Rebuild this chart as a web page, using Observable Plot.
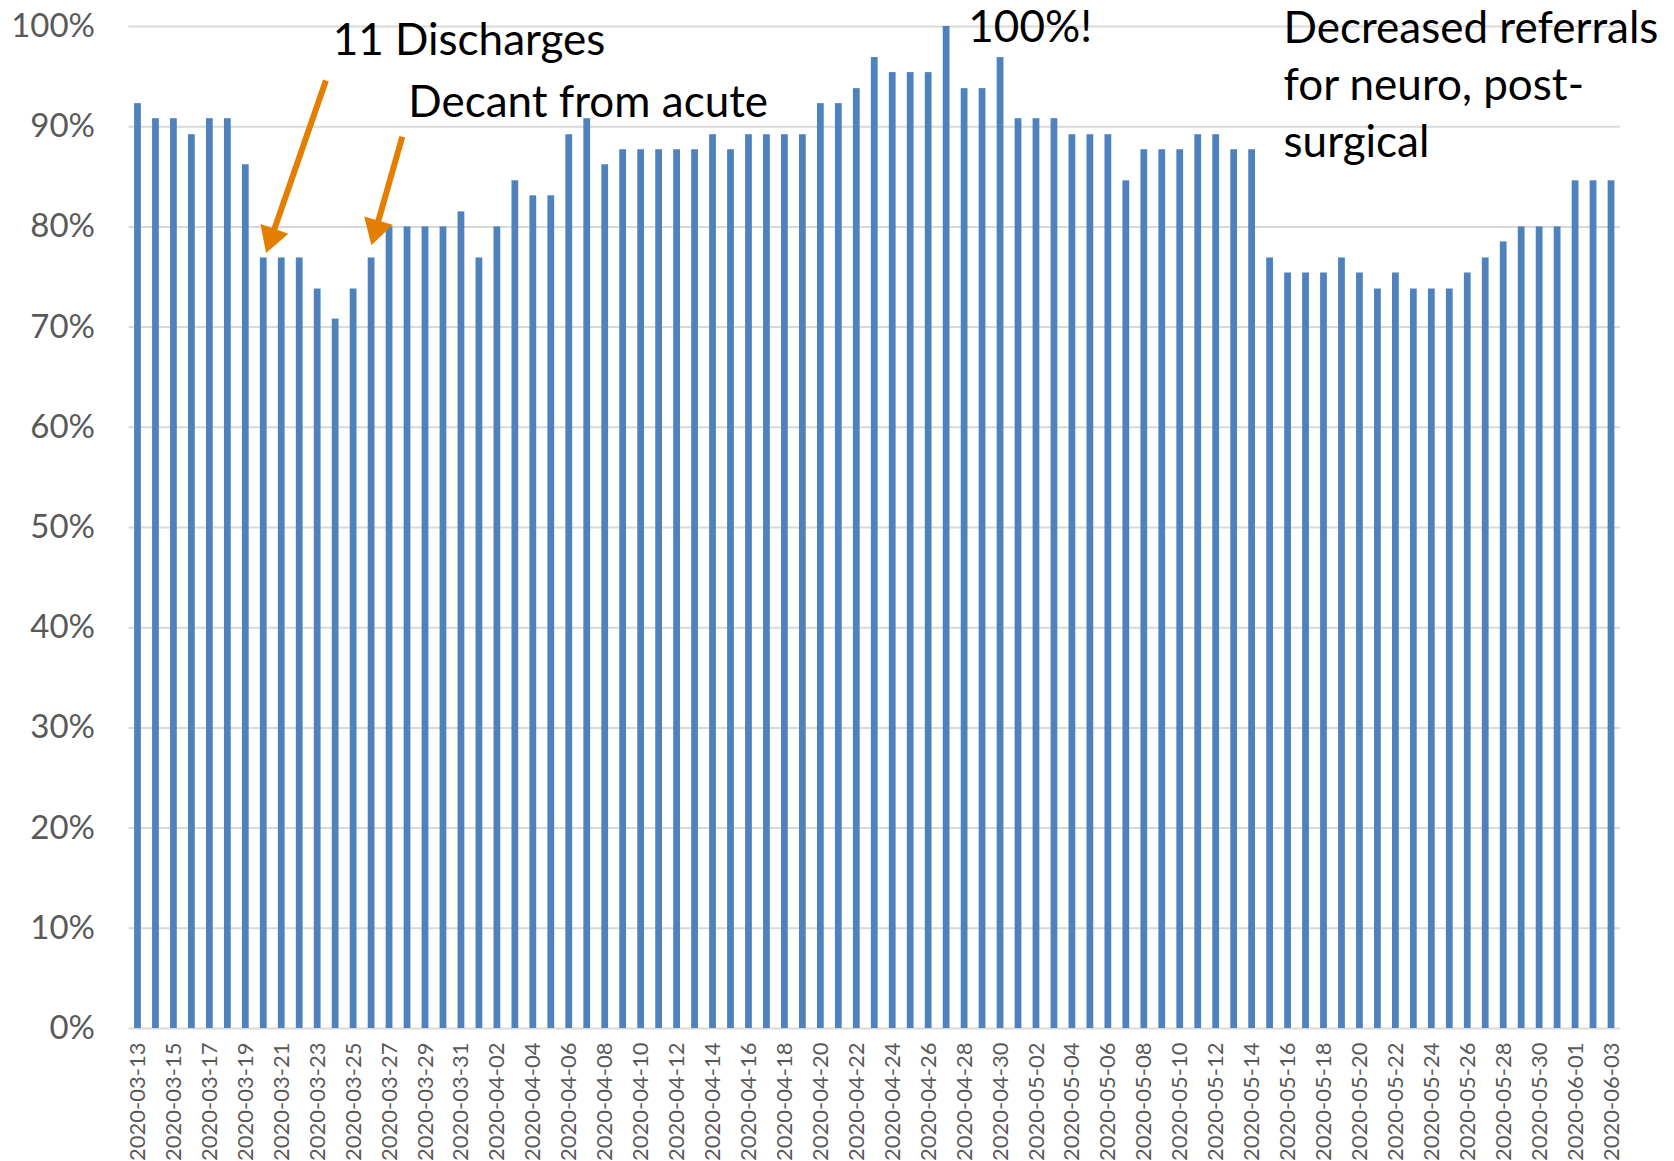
<!DOCTYPE html>
<html>
<head>
<meta charset="utf-8">
<script src="https://cdn.jsdelivr.net/npm/d3@7"></script>
<script src="https://cdn.jsdelivr.net/npm/@observablehq/plot@0.6"></script>
<style>
  html, body { margin: 0; padding: 0; background: #fff; }
  #chart svg { display: block; }
</style>
</head>
<body>
<div id="chart"></div>
<script>
// ---- data ----
const dates = [
  "2020-03-13","2020-03-14","2020-03-15","2020-03-16","2020-03-17","2020-03-18","2020-03-19","2020-03-20",
  "2020-03-21","2020-03-22","2020-03-23","2020-03-24","2020-03-25","2020-03-26","2020-03-27","2020-03-28",
  "2020-03-29","2020-03-30","2020-03-31","2020-04-01","2020-04-02","2020-04-03","2020-04-04","2020-04-05",
  "2020-04-06","2020-04-07","2020-04-08","2020-04-09","2020-04-10","2020-04-11","2020-04-12","2020-04-13",
  "2020-04-14","2020-04-15","2020-04-16","2020-04-17","2020-04-18","2020-04-19","2020-04-20","2020-04-21",
  "2020-04-22","2020-04-23","2020-04-24","2020-04-25","2020-04-26","2020-04-27","2020-04-28","2020-04-29",
  "2020-04-30","2020-05-01","2020-05-02","2020-05-03","2020-05-04","2020-05-05","2020-05-06","2020-05-07",
  "2020-05-08","2020-05-09","2020-05-10","2020-05-11","2020-05-12","2020-05-13","2020-05-14","2020-05-15",
  "2020-05-16","2020-05-17","2020-05-18","2020-05-19","2020-05-20","2020-05-21","2020-05-22","2020-05-23",
  "2020-05-24","2020-05-25","2020-05-26","2020-05-27","2020-05-28","2020-05-29","2020-05-30","2020-05-31",
  "2020-06-01","2020-06-02","2020-06-03"
];
const occupancy = [
  92.3, 90.8, 90.8, 89.2, 90.8, 90.8, 86.2, 76.9,
  76.9, 76.9, 73.8, 70.8, 73.8, 76.9, 80.0, 80.0,
  80.0, 80.0, 81.5, 76.9, 80.0, 84.6, 83.1, 83.1,
  89.2, 90.8, 86.2, 87.7, 87.7, 87.7, 87.7, 87.7,
  89.2, 87.7, 89.2, 89.2, 89.2, 89.2, 92.3, 92.3,
  93.8, 96.9, 95.4, 95.4, 95.4, 100.0, 93.8, 93.8,
  96.9, 90.8, 90.8, 90.8, 89.2, 89.2, 89.2, 84.6,
  87.7, 87.7, 87.7, 89.2, 89.2, 87.7, 87.7, 76.9,
  75.4, 75.4, 75.4, 76.9, 75.4, 73.8, 75.4, 73.8,
  73.8, 73.8, 75.4, 76.9, 78.5, 80.0, 80.0, 80.0,
  84.6, 84.6, 84.6
];
const yTicks = [0, 10, 20, 30, 40, 50, 60, 70, 80, 90, 100];
const xTickLabels = [
  "2020-03-13","2020-03-15","2020-03-17","2020-03-19","2020-03-21","2020-03-23","2020-03-25","2020-03-27",
  "2020-03-29","2020-03-31","2020-04-02","2020-04-04","2020-04-06","2020-04-08","2020-04-10","2020-04-12",
  "2020-04-14","2020-04-16","2020-04-18","2020-04-20","2020-04-22","2020-04-24","2020-04-26","2020-04-28",
  "2020-04-30","2020-05-02","2020-05-04","2020-05-06","2020-05-08","2020-05-10","2020-05-12","2020-05-14",
  "2020-05-16","2020-05-18","2020-05-20","2020-05-22","2020-05-24","2020-05-26","2020-05-28","2020-05-30",
  "2020-06-01","2020-06-03"
];
// annotations (anchored in data space: date-time, percent)
const noteTexts = ["11 Discharges", "Decant from acute", "100%!", "Decreased referrals\nfor neuro, post-\nsurgical"];
const noteAt = ["2020-03-23T20:00Z", "2020-03-28T01:00Z", "2020-04-28T05:00Z", "2020-05-15T18:00Z"];
const noteLevel = [99.0, 92.8, 100.3, 94.5];
const arrowFrom = [["2020-03-23T11:00Z", 94.6], ["2020-03-27T17:00Z", 89.0]];
const arrowTo = [["2020-03-20T10:30Z", 79.0], ["2020-03-26T06:00Z", 79.8]];
const arrowTurn = [199, 196];

// ---- build ----
const parse = d3.utcParse("%Y-%m-%d");
const half = 12 * 3600 * 1000;
const table = dates.map((d, i) => ({date: parse(d), value: occupancy[i]}));
const notes = noteTexts.map((t, i) => ({text: t, x: new Date(noteAt[i]), y: noteLevel[i]}));
const arrows = arrowFrom.map((a, i) => ({
  x1: new Date(a[0]), y1: a[1], x2: new Date(arrowTo[i][0]), y2: arrowTo[i][1], rot: arrowTurn[i]
}));
const orange = "#E37E00";

const chart = Plot.plot({
  width: 1674,
  height: 1161,
  marginTop: 26,
  marginBottom: 133,
  marginLeft: 128.5,
  marginRight: 54,
  style: {fontFamily: "Lato, sans-serif", background: "#fff"},
  x: {type: "utc", domain: [new Date(+parse(dates[0]) - half), new Date(+parse(dates[dates.length - 1]) + half)]},
  y: {domain: [0, 100]},
  marks: [
    Plot.ruleY(yTicks, {stroke: "#d9d9d9", strokeWidth: 2}),
    Plot.rect(table, {
      x1: d => new Date(+d.date - half),
      x2: d => new Date(+d.date + half),
      y1: 0, y2: "value",
      fill: "#4F81BD", insetLeft: 5.6, insetRight: 5.6
    }),
    Plot.axisY({ticks: yTicks, tickSize: 0, tickPadding: 34, tickFormat: d => d + "%",
      fontSize: 33, color: "#595959", label: null}),
    Plot.axisX({ticks: xTickLabels.map(parse), tickFormat: d3.utcFormat("%Y-%m-%d"), tickRotate: -90,
      tickSize: 0, tickPadding: 14, fontSize: 22, color: "#595959", label: null}),
    Plot.text(notes, {x: "x", y: "y", text: "text", textAnchor: "start", fontSize: 44,
      lineHeight: 1.3, fill: "#000"}),
    Plot.link(arrows, {x1: "x1", y1: "y1", x2: "x2", y2: "y2", stroke: orange, strokeWidth: 6}),
    Plot.dot(arrows, {x: "x2", y: "y2", symbol: "triangle", r: 11, fill: orange, rotate: "rot"})
  ]
});
document.getElementById("chart").append(chart);
</script>
</body>
</html>
